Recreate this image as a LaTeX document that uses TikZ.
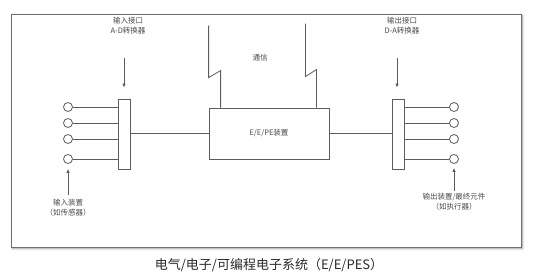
\documentclass[tikz,border=0pt]{standalone}
\usepackage{fontspec}
\setmainfont{Noto Sans CJK SC}
\usetikzlibrary{
  arrows.meta,
  positioning,
  calc,
  shadows.blur
}
\definecolor{wirecolor}{HTML}{5C5C5C}
\definecolor{frameline}{HTML}{6E6E6E}
\definecolor{textprimary}{HTML}{2A2A2A}
\definecolor{textsecondary}{HTML}{4A4A4A}
\tikzset{
  base/.style={
    text=textsecondary,
    font=\fontsize{7.5}{10}\selectfont,
    align=center,
    inner sep=0pt,
  },
  wire/.style={
    draw=wirecolor,
    line width=0.8pt,
  },
  terminal/.style={
    wire,
    circle,
    fill=white,
    minimum size=9pt,
    inner sep=0pt,
  },
  converter/.style={
    wire,
    fill=white,
    minimum width=12pt,
    minimum height=70pt,
    inner sep=0pt,
  },
  device/.style={
    base,
    wire,
    minimum width=120pt,
    minimum height=51pt,
  },
  pointer/.style={
    wire,
    -{Latex[length=4pt, width=3.5pt]},
  },
}

\begin{document}
\begin{tikzpicture}[x=1pt, y=-1pt]
\useasboundingbox (0,0) rectangle (554,275);

% === Frame ===

\node[draw=frameline, line width=0.8pt, fill=white,
  minimum width=510pt, minimum height=233pt,
  blur shadow={shadow xshift=1.5pt, shadow yshift=-1.5pt, shadow blur steps=6}]
  (frame) at (266,130.5) {};

% === Centre: E/E/PE device and communication ===

\node[device] (eepe) at (269,133.5) {E/E/PE装置};

\coordinate (commL) at ($(eepe.north west)+(12,0)$);
\coordinate (commR) at ($(eepe.north east)+(-13,0)$);
\draw[wire] (commL) -- ++(0,-37) -- ++(-12,7) -- ++(0,-52);
\draw[wire] (commR) -- ++(0,-38) -- ++(-11,7) -- ++(0,-53);

\node[base] (comm) at (260,58) {通信};

% === Input side ===

\node[converter] (adc) at (124,134) {};
\node[base] (adclabel) at (128,26) {输入接口\\A-D转换器};
\draw[pointer] ($(adc.north)+(0,-41)$) -- ($(adc.north)+(0,-11)$);

\foreach \i/\y in {1/107, 2/123, 3/139, 4/159} {
  \node[terminal] (in\i) at (68,\y) {};
  \draw[wire] (in\i.east) -- (in\i.east -| adc.west);
}

\draw[wire] (adc.east |- eepe.west) -- (eepe.west);

\node[base] (inlabel) at (68,208) {输入装置\\（如传感器）};
\draw[pointer] ($(in4.south)+(0,31)$) -- ($(in4.south)+(0,5)$);

% === Output side ===

\node[converter] (dac) at (398,134) {};
\node[base] (daclabel) at (402,26) {输出接口\\D-A转换器};
\draw[pointer] ($(dac.north)+(-1,-41)$) -- ($(dac.north)+(-1,-11)$);

\foreach \i/\y in {1/107, 2/123, 3/139, 4/159} {
  \node[terminal] (out\i) at (454,\y) {};
  \draw[wire] (out\i.west -| dac.east) -- (out\i.west);
}

\draw[wire] (eepe.east) -- (eepe.east -| dac.west);

\node[base] (outlabel) at (454,202) {输出装置/最终元件\\（如执行器）};
\draw[pointer] ($(out4.south)+(0,27)$) -- ($(out4.south)+(0,4)$);

% === Caption ===

\node[text=textprimary, font=\fontsize{13}{15}\selectfont, inner sep=0pt]
  (caption) at (269,265) {电气/电子/可编程电子系统（E/E/PES）};

\end{tikzpicture}
\end{document}
